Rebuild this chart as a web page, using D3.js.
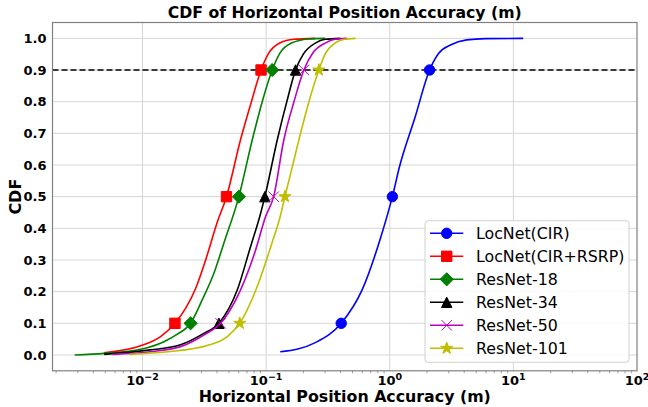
<!DOCTYPE html>
<html>
<head>
<meta charset="utf-8">
<script src="https://cdn.jsdelivr.net/npm/d3@7"></script>
<style>
  html, body { margin: 0; padding: 0; background: #fff; }
  svg { display: block; font-family: "DejaVu Sans", sans-serif; }
</style>
</head>
<body>
<svg id="chart" width="648" height="407"></svg>
<script>
// series (x in metres, y = CDF)
const names = ['LocNet(CIR)', 'LocNet(CIR+RSRP)', 'ResNet-18', 'ResNet-34', 'ResNet-50', 'ResNet-101']
const colors = ['#0000ff', '#ff0000', '#008000', '#000000', '#bf00bf', '#bfbf00']
const markers = ['circle', 'square', 'diamond', 'triangle', 'cross', 'star']

const xCIR     = [0.13, 0.25, 0.405, 0.60, 0.84, 1.05, 1.2, 1.6, 2.1, 2.49, 3.1, 4.2, 6, 12]
const cdfCIR   = [0.01, 0.039, 0.1, 0.207, 0.368, 0.5, 0.595, 0.75, 0.9, 0.953, 0.979, 0.995, 0.999, 1.0]
const xRSRP    = [0.00487, 0.00953, 0.014, 0.0183, 0.0223, 0.0269, 0.0324, 0.0403, 0.0478, 0.062, 0.076, 0.091, 0.105, 0.13, 0.168, 0.25]
const cdfRSRP  = [0.007, 0.028, 0.058, 0.1, 0.147, 0.21, 0.30, 0.42, 0.5, 0.679, 0.80, 0.9, 0.953, 0.986, 0.997, 1.0]
const xR18     = [0.00283, 0.0049, 0.00966, 0.0149, 0.019, 0.0245, 0.0304, 0.0378, 0.0455, 0.0602, 0.0772, 0.093, 0.112, 0.13, 0.16, 0.22, 0.3]
const cdfR18   = [0.0, 0.005, 0.018, 0.042, 0.065, 0.1, 0.174, 0.258, 0.353, 0.5, 0.679, 0.8, 0.9, 0.955, 0.985, 0.998, 1.0]
const xR34     = [0.0049, 0.0116, 0.0203, 0.0313, 0.0415, 0.0584, 0.0748, 0.0902, 0.0977, 0.123, 0.147, 0.173, 0.2, 0.25, 0.3, 0.4]
const cdfR34   = [0.002, 0.016, 0.032, 0.068, 0.1, 0.205, 0.342, 0.447, 0.5, 0.679, 0.8, 0.9, 0.95, 0.985, 0.997, 1.0]
const xR50     = [0.0057, 0.0116, 0.0216, 0.0313, 0.0428, 0.062, 0.082, 0.099, 0.115, 0.139, 0.168, 0.202, 0.24, 0.3, 0.36, 0.45]
const cdfR50   = [0.002, 0.01, 0.03, 0.063, 0.1, 0.205, 0.33, 0.437, 0.5, 0.679, 0.8, 0.9, 0.955, 0.985, 0.997, 1.0]
const xR101    = [0.0078, 0.0159, 0.0334, 0.0485, 0.0612, 0.0847, 0.109, 0.131, 0.142, 0.184, 0.222, 0.267, 0.3, 0.36, 0.43, 0.53]
const cdfR101  = [0.002, 0.01, 0.03, 0.058, 0.1, 0.216, 0.342, 0.442, 0.5, 0.679, 0.8, 0.9, 0.95, 0.985, 0.997, 1.0]

const seriesX = [xCIR, xRSRP, xR18, xR34, xR50, xR101]
const seriesY = [cdfCIR, cdfRSRP, cdfR18, cdfR34, cdfR50, cdfR101]
const markLevels = [0.1, 0.5, 0.9]
const yTicks = [0, 0.1, 0.2, 0.3, 0.4, 0.5, 0.6, 0.7, 0.8, 0.9, 1.0]
const xTickExp = [-2, -1, 0, 1, 2]

const svg = d3.select('#chart')
const L = 52.5, R = 637, T = 22.5, B = 370.8

const x = d3.scaleLog().domain([Math.pow(10, -2.728), 100]).range([L, R])
const y = d3.scaleLinear().domain([-0.05, 1.05]).range([B, T])

// grid
const grid = svg.append('g').attr('stroke', '#d6d6d6').attr('stroke-width', 1)
grid.selectAll('line.gy').data(yTicks).enter().append('line')
  .attr('x1', L).attr('x2', R).attr('y1', d => y(d)).attr('y2', d => y(d))
grid.selectAll('line.gx').data(xTickExp.slice(0, -1)).enter().append('line')
  .attr('y1', T).attr('y2', B).attr('x1', d => x(Math.pow(10, d))).attr('x2', d => x(Math.pow(10, d)))

// minor ticks on the log axis
const minor = []
for (let e = -3; e < 2; e++) for (let k = 2; k < 10; k++) {
  const v = k * Math.pow(10, e)
  if (v >= x.domain()[0] && v <= 100) minor.push(v)
}
svg.append('g').selectAll('line').data(minor).enter().append('line')
  .attr('x1', d => x(d)).attr('x2', d => x(d)).attr('y1', B).attr('y2', B + 2.5)
  .attr('stroke', '#888').attr('stroke-width', 0.8)

// 0.9 reference line
svg.append('line').attr('x1', L).attr('x2', R).attr('y1', y(0.9)).attr('y2', y(0.9))
  .attr('stroke', '#000').attr('stroke-width', 1.6).attr('stroke-dasharray', '6,3')

const plot = svg.append('g')
const line = d3.line().x(d => x(d[0])).y(d => y(d[1])).curve(d3.curveMonotoneX)

function markerPath(type){
  const s = 5.2
  switch(type){
    case 'circle': return d3.symbol(d3.symbolCircle, Math.PI * s * s)()
    case 'square': return d3.symbol(d3.symbolSquare, (2 * s) * (2 * s))()
    case 'diamond': { const r = 6.6; return `M0,${-r}L${r},0L0,${r}L${-r},0Z` }
    case 'triangle': return `M0,${-s}L${s},${s}L${-s},${s}Z`
    case 'cross': return `M${-s},${-s}L${s},${s}M${-s},${s}L${s},${-s}`
    case 'star': return d3.symbol(d3.symbolStar, 46)()
  }
}
function drawMarker(g, type, color, cx, cy){
  const p = g.append('path').attr('d', markerPath(type)).attr('transform', `translate(${cx},${cy})`)
  if(type === 'cross') p.attr('fill', 'none').attr('stroke', color).attr('stroke-width', 1)
  else p.attr('fill', color).attr('stroke', color).attr('stroke-width', 1)
}

names.forEach((nm, i) => {
  const pts = seriesX[i].map((v, j) => [v, seriesY[i][j]])
  plot.append('path').datum(pts).attr('d', line)
    .attr('fill', 'none').attr('stroke', colors[i]).attr('stroke-width', 1.6)
  pts.filter(p => markLevels.includes(p[1])).forEach(p => drawMarker(plot, markers[i], colors[i], x(p[0]), y(p[1])))
})

// axes frame
svg.append('rect').attr('x', L).attr('y', T).attr('width', R - L).attr('height', B - T)
  .attr('fill', 'none').attr('stroke', '#808080').attr('stroke-width', 1.2)

// y tick labels
svg.append('g').selectAll('text').data(yTicks).enter().append('text')
  .attr('x', L - 6).attr('y', d => y(d)).attr('dy', '0.36em')
  .attr('text-anchor', 'end').attr('font-weight', 'bold').attr('font-size', 13)
  .text(d => d.toFixed(1))

// x tick labels (10^n)
const xl = svg.append('g').selectAll('text').data(xTickExp).enter().append('text')
  .attr('x', d => x(Math.pow(10, d))).attr('y', B + 14.5)
  .attr('text-anchor', 'middle').attr('font-weight', 'bold').attr('font-size', 13)
xl.append('tspan').text('10')
xl.append('tspan').attr('dy', -5.5).attr('font-size', 9.5).text(d => (d < 0 ? '\u2212' : '') + Math.abs(d))

// titles
svg.append('text').attr('x', (L + R) / 2).attr('y', 18).attr('text-anchor', 'middle')
  .attr('font-weight', 'bold').attr('font-size', 15.7).text('CDF of Horizontal Position Accuracy (m)')
svg.append('text').attr('x', (L + R) / 2).attr('y', 401.5).attr('text-anchor', 'middle')
  .attr('font-weight', 'bold').attr('font-size', 15.8).text('Horizontal Position Accuracy (m)')
svg.append('text').attr('transform', `translate(21,${(T + B) / 2}) rotate(-90)`).attr('text-anchor', 'middle')
  .attr('font-weight', 'bold').attr('font-size', 16).text('CDF')

// legend
const lg = svg.append('g')
lg.append('rect').attr('x', 425).attr('y', 220.7).attr('width', 204).attr('height', 141.6).attr('rx', 3)
  .attr('fill', '#fff').attr('fill-opacity', 0.85).attr('stroke', '#d0d0d0').attr('stroke-width', 1)
names.forEach((nm, i) => {
  const ly = 233.3 + i * 23
  lg.append('line').attr('x1', 430).attr('x2', 463.3).attr('y1', ly).attr('y2', ly)
    .attr('stroke', colors[i]).attr('stroke-width', 1.6)
  drawMarker(lg, markers[i], colors[i], 446.7, ly)
  lg.append('text').attr('x', 476).attr('y', ly).attr('dy', '0.36em').attr('font-size', 15.8).text(nm)
})
</script>
</body>
</html>
